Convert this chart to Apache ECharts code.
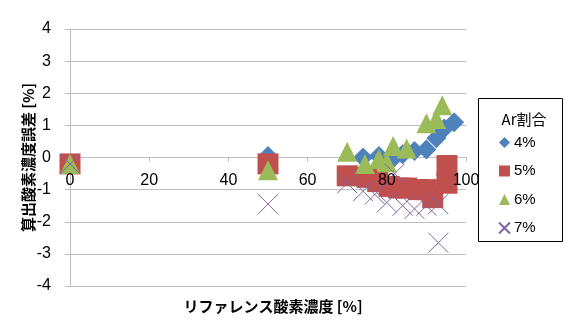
<!DOCTYPE html>
<html lang="ja">
<head>
    <meta charset="UTF-8">
    <title>算出酸素濃度誤差</title>
    <style>
        html, body { margin: 0; padding: 0; background: #fff; }
        #main { width: 569px; height: 322px; }
    </style>
    <script src="https://cdn.jsdelivr.net/npm/echarts@6/dist/echarts.min.js"></script>
</head>
<body>
    <div id="main"></div>
    <script type="text/javascript">
        // 系列ごとの点 [リファレンス酸素濃度, 誤差]
        var seriesNames = ['4%', '5%', '6%', '7%'];
        var ar4 = [[0, -0.2], [50, 0.05], [74, 0.0], [78, 0.05], [81, -0.1], [84, 0.1], [87, 0.2],
                   [90, 0.25], [92.5, 0.6], [94.5, 0.9], [97, 1.1]];
        var ar5 = [[0, -0.2], [50, -0.2], [70, -0.57], [75, -0.62], [77.7, -0.75], [80.6, -0.9],
                   [83, -0.95], [85, -0.95], [88, -1.0], [90, -1.0], [91.6, -1.25], [95.2, -0.25], [95.2, -0.8]];
        var ar6 = [[0, -0.2], [50, -0.4], [70, 0.18], [74.5, -0.2], [78, -0.05], [80, -0.15],
                   [81.6, 0.36], [85, 0.28], [90, 1.07], [92.5, 1.2], [94, 1.63]];
        var ar7 = [[0, -0.2], [50, -1.45], [70, -0.8], [74, -1.05], [77, -1.15], [80, -1.4],
                   [82, -0.5], [84, -1.5], [87, -1.6], [90, -1.5], [93, -1.45], [93, -2.65]];
        var xTicks = [0, 20, 40, 60, 80, 100];
        var yTicks = [-4, -3, -2, -1, 0, 1, 2, 3, 4];

        var jp = '"Noto Sans CJK JP", sans-serif';
        var num = '"Liberation Sans", sans-serif';
        var gridColor = '#bfbfbf';

        // プロット領域
        var gridTop = 29, gridBottom = 36;
        var plotH = 322 - gridTop - gridBottom;

        var chart = echarts.init(document.getElementById('main'));

        // x軸は線と目盛（マーカーの下）とラベル（マーカーの上）に分ける
        var xBase = {
            type: 'value',
            position: 'bottom',
            offset: -plotH / 2,
            min: xTicks[0], max: xTicks[xTicks.length - 1], interval: 20,
            splitLine: { show: false }
        };

        var option = {
            animation: false,
            backgroundColor: '#fff',
            title: [{
                text: 'リファレンス酸素濃度 [%]',
                left: 268, top: 294, textAlign: 'center',
                textStyle: { fontFamily: jp, fontSize: 15, fontWeight: 'bold', color: '#000' }
            }, {
                text: 'Ar割合',
                left: 519, top: 107, textAlign: 'center',
                textStyle: { fontFamily: jp, fontSize: 15, fontWeight: 'normal', color: '#000' }
            }],
            graphic: [{
                type: 'rect',
                shape: { x: 478.5, y: 98.5, width: 84, height: 143 },
                style: { fill: '#fff', stroke: '#000', lineWidth: 1 },
                z: 0
            }],
            legend: {
                orient: 'vertical',
                left: 498, top: 135, padding: 0,
                itemWidth: 11, itemHeight: 11, itemGap: 13.5,
                data: seriesNames,
                textStyle: { fontFamily: num, fontSize: 15, color: '#000', padding: [0, 0, 0, -1] }
            },
            grid: { left: 70, right: 103, top: gridTop, bottom: gridBottom },
            xAxis: [
                Object.assign({}, xBase, {
                    axisLine: { onZero: false, lineStyle: { color: gridColor } },
                    axisTick: { show: true, length: 4, lineStyle: { color: gridColor } },
                    axisLabel: { show: false }
                }),
                Object.assign({}, xBase, {
                    z: 10,
                    axisLine: { show: false, onZero: false },
                    axisTick: { show: false },
                    axisLabel: { margin: 15, fontFamily: num, fontSize: 16, color: '#000' }
                })
            ],
            yAxis: {
                type: 'value',
                min: yTicks[0], max: yTicks[yTicks.length - 1], interval: 1,
                name: '算出酸素濃度誤差 [%]',
                nameLocation: 'middle', nameGap: 34, nameMoveOverlap: false,
                nameTextStyle: { fontFamily: jp, fontSize: 15, fontWeight: 'bold', color: '#000' },
                axisLine: { show: true, lineStyle: { color: gridColor } },
                axisTick: { show: true, length: 5, lineStyle: { color: gridColor } },
                axisLabel: { margin: 19, fontFamily: num, fontSize: 16, color: '#000' },
                splitLine: { show: true, lineStyle: { color: gridColor } }
            },
            series: [{
                name: '4%', type: 'scatter', data: ar4,
                symbol: 'diamond', symbolSize: 20,
                itemStyle: { color: '#4F81BD', opacity: 1 }
            }, {
                name: '5%', type: 'scatter', data: ar5,
                symbol: 'rect', symbolSize: 21,
                itemStyle: { color: '#C0504D', opacity: 1 }
            }, {
                name: '6%', type: 'scatter', data: ar6,
                symbol: 'triangle', symbolSize: 20,
                itemStyle: { color: '#9BBB59', opacity: 1 }
            }, {
                name: '7%', type: 'scatter', data: ar7,
                symbol: 'path://M0,0L20,20M20,0L0,20', symbolSize: 20,
                itemStyle: { color: 'transparent', borderColor: '#8064A2', borderWidth: 1, opacity: 1 }
            }]
        };

        chart.setOption(option);
    </script>
</body>
</html>
